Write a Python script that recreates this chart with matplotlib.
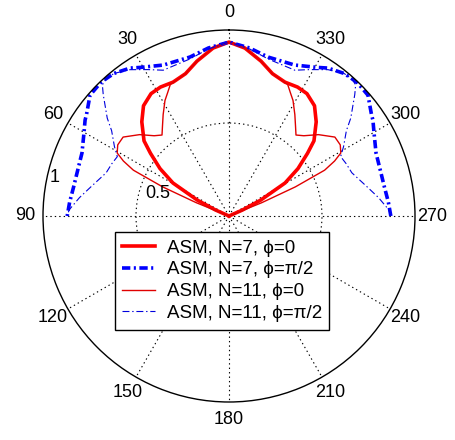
import matplotlib
matplotlib.use("Agg")
import matplotlib.pyplot as plt
import numpy as np

plt.rcParams['font.family'] = ['Liberation Sans', 'DejaVu Sans']
plt.rcParams['lines.scale_dashes'] = False

# half patterns (theta in degrees from broadside, r normalised); patterns are symmetric
th_n7_p0 = [0, 5.4, 11.7, 17, 22.7, 28, 32.5, 37.8, 42.8, 48.5, 51.4, 55.5, 59.5, 63.4, 66, 68]
r_n7_p0 = [0.935, 0.907, 0.85, 0.80, 0.78, 0.785, 0.78, 0.75, 0.69, 0.61, 0.54, 0.45, 0.35, 0.19, 0.08, 0.0]

th_n7_p90 = [0, 7, 13.8, 23.5, 30.8, 33.8, 38.9, 41.5, 44, 49, 54.6, 56.3, 60, 66.8, 73, 79.5, 85, 90]
r_n7_p90 = [0.935, 0.91, 0.88, 0.885, 0.93, 0.957, 0.985, 0.99, 0.995, 0.99, 0.94, 0.93, 0.90, 0.86, 0.85, 0.85, 0.86, 0.87]

th_n11_p0 = [0, 5.4, 11.7, 17, 22, 24, 26.5, 29, 33, 36.6, 39.6, 43, 47.7, 53.3, 57.4, 60.6, 62.5, 64.4, 66.3, 67.9, 69]
r_n11_p0 = [0.935, 0.907, 0.85, 0.80, 0.78, 0.775, 0.74, 0.71, 0.65, 0.60, 0.565, 0.59, 0.65, 0.71, 0.71, 0.69, 0.64, 0.57, 0.39, 0.19, 0.0]

th_n11_p90 = [0, 7, 14, 24.3, 29, 34.1, 38.9, 42, 44, 46, 51.2, 54, 58.8, 62, 66, 70.6, 78.2, 83, 87.8, 90]
r_n11_p90 = [0.935, 0.905, 0.87, 0.86, 0.90, 0.95, 0.985, 0.99, 0.98, 0.94, 0.84, 0.78, 0.72, 0.68, 0.69, 0.70, 0.76, 0.81, 0.86, 0.87]

labels = ['ASM, N=7, \u03d5=0', 'ASM, N=7, \u03d5=\u03c0/2',
          'ASM, N=11, \u03d5=0', 'ASM, N=11, \u03d5=\u03c0/2']


def mirror(th, r):
    th = np.array(th, dtype=float)
    r = np.array(r, dtype=float)
    full_th = np.concatenate([-th[::-1], th[1:]])
    full_r = np.concatenate([r[::-1], r[1:]])
    return np.deg2rad(full_th), full_r


fig = plt.figure(figsize=(4.56, 4.40), dpi=100)
ax = fig.add_axes([43 / 456, 38 / 440, 372 / 456, 372 / 440], projection='polar')
ax.set_theta_zero_location('N')
ax.set_theta_direction(1)

t, r = mirror(th_n7_p0, r_n7_p0)
ax.plot(t, r, color='#ff0000', lw=2.6, label=labels[0])
t, r = mirror(th_n7_p90, r_n7_p90)
ax.plot(t, r, color='#0000ff', lw=2.6, linestyle=(0, (6, 2.5, 1.5, 2.5)), label=labels[1])
t, r = mirror(th_n11_p0, r_n11_p0)
ax.plot(t, r, color='#e00000', lw=1.0, label=labels[2])
t, r = mirror(th_n11_p90, r_n11_p90)
ax.plot(t, r, color='#0000dd', lw=0.8, linestyle=(0, (5, 2, 1, 2)), label=labels[3])

ax.set_ylim(0, 1)
ax.set_rgrids([0.5], labels=[''])
ax.set_thetagrids(np.arange(0, 360, 30), labels=[str(a) for a in range(0, 360, 30)], fontsize=13)
ax.grid(True, color='black', linestyle=(0, (1, 2.2)), linewidth=0.8)
ax.tick_params(axis='x', pad=2)
ax.spines['polar'].set_linewidth(1.0)

ax.text(np.deg2rad(77.7), 0.96, '1', fontsize=13, ha='center', va='center')
ax.text(np.deg2rad(72), 0.40, '0.5', fontsize=13, ha='center', va='center')

leg = ax.legend(loc='upper left', bbox_to_anchor=(115 / 456, 1 - 232 / 440),
                bbox_transform=fig.transFigure, fontsize=13.5, fancybox=False,
                framealpha=1, edgecolor='black', handlelength=1.75,
                handletextpad=0.6, labelspacing=0.25, borderpad=0.4, borderaxespad=0)
leg.get_frame().set_linewidth(1.0)

fig.savefig('out.png', dpi=100, facecolor='white')
